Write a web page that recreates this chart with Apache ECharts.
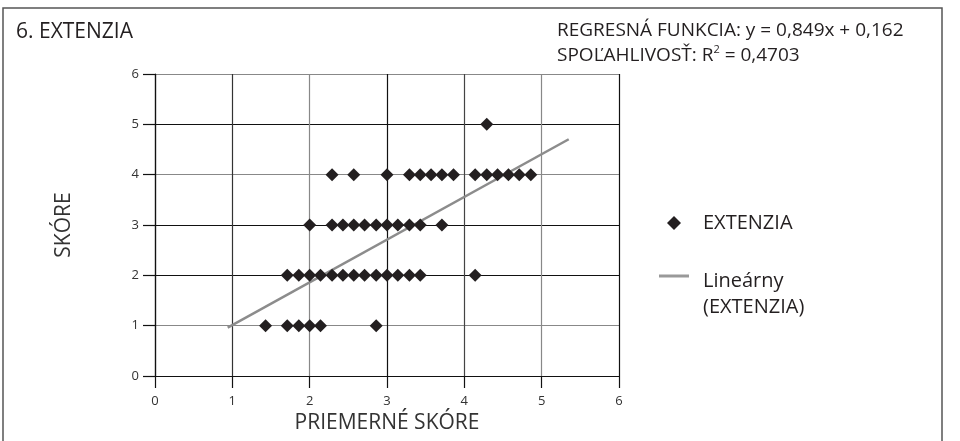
<!DOCTYPE html>
<html>
<head>
<meta charset="utf-8">
<script src="https://cdn.jsdelivr.net/npm/echarts@6/dist/echarts.min.js"></script>
<style>
  html, body { margin: 0; padding: 0; background: #fff; }
  #chart { width: 960px; height: 441px; }
</style>
</head>
<body>
<div id="chart"></div>
<script>
// Average score (x) for each respondent at each observed score level (y)
const score1 = [1.43, 1.71, 1.86, 2.00, 2.14, 2.86];
const score2 = [1.71, 1.86, 2.00, 2.14, 2.29, 2.43, 2.57, 2.71, 2.86, 3.00, 3.14, 3.29, 3.43, 4.14];
const score3 = [2.00, 2.29, 2.43, 2.57, 2.71, 2.86, 3.00, 3.14, 3.29, 3.43, 3.71];
const score4 = [2.29, 2.57, 3.00, 3.29, 3.43, 3.57, 3.71, 3.86, 4.14, 4.29, 4.43, 4.57, 4.71, 4.86];
const score5 = [4.29];

// Linear regression y = slope * x + intercept, drawn over this x span
const slope = 0.849;
const intercept = 0.162;
const rSquared = '0,4703';
const trendX = [0.94, 5.35];

const axisTicks = [0, 1, 2, 3, 4, 5, 6];

const FONT = '"Open Sans", "Noto Sans", sans-serif';
const INK = '#231f20';

const points = [];
[[1, score1], [2, score2], [3, score3], [4, score4], [5, score5]].forEach(([y, xs]) => {
  xs.forEach(x => points.push([x, y]));
});
const trend = trendX.map(x => [x, slope * x + intercept]);

const chart = echarts.init(document.getElementById('chart'), null, { renderer: 'canvas' });
chart.setOption({
  animation: false,
  backgroundColor: '#fff',
  textStyle: { fontFamily: FONT },
  graphic: [{
    type: 'rect',
    shape: { x: 3, y: 8, width: 939, height: 460 },
    style: { fill: 'none', stroke: '#555', lineWidth: 1.5 },
    silent: true
  }],
  title: [{
    text: '6. EXTENZIA',
    left: 16, top: 19, padding: 0,
    textStyle: { fontFamily: FONT, fontSize: 21, fontWeight: 'normal', color: INK, lineHeight: 26 }
  }, {
    text: '{a|REGRESNÁ FUNKCIA: y = 0,849x + 0,162}\n{a|SPOĽAHLIVOSŤ: R}{sup|2}{a| = ' + rSquared + '}',
    left: 557, top: 18, padding: 0,
    textStyle: {
      fontFamily: FONT, fontWeight: 'normal', color: INK,
      rich: {
        a: { fontFamily: FONT, fontSize: 19, color: INK, lineHeight: 25 },
        sup: { fontFamily: FONT, fontSize: 11, color: INK, lineHeight: 25, padding: [0, 0, 11, 0] }
      }
    }
  }],
  legend: [{
    data: [{ name: 'EXTENZIA', icon: 'diamond' }],
    left: 667, top: 211, padding: 0,
    itemWidth: 14, itemHeight: 14,
    selectedMode: false,
    textStyle: { fontFamily: FONT, fontSize: 20, color: INK, lineHeight: 24, padding: [0, 0, 0, 17] }
  }, {
    data: [{ name: 'Lineárny\n(EXTENZIA)', icon: 'rect' }],
    left: 659, top: 240, padding: 0,
    itemWidth: 30, itemHeight: 3,
    selectedMode: false,
    itemStyle: { color: '#999' },
    formatter: name => '{e| }\n' + name.split('\n').map(s => '{t|' + s + '}').join('\n'),
    textStyle: {
      fontFamily: FONT, fontSize: 20, color: INK, padding: [0, 0, 0, 9],
      rich: {
        e: { fontFamily: FONT, fontSize: 20, lineHeight: 36 },
        t: { fontFamily: FONT, fontSize: 20, color: INK, lineHeight: 26 }
      }
    }
  }],
  grid: { left: 155, right: 341, top: 74, bottom: 65, containLabel: false },
  xAxis: {
    type: 'value', min: axisTicks[0], max: axisTicks[axisTicks.length - 1], interval: 1,
    name: 'PRIEMERNÉ SKÓRE', nameLocation: 'middle', nameGap: 32,
    nameTextStyle: { fontFamily: FONT, fontSize: 21, color: '#333' },
    axisLine: { show: true, onZero: false, lineStyle: { color: '#111', width: 1.2 } },
    axisTick: { show: true, length: 12, lineStyle: { color: '#111', width: 1.2 } },
    axisLabel: { margin: 19, fontFamily: FONT, fontSize: 13, color: '#333' },
    splitLine: { show: true, lineStyle: { color: ['#111', '#333', '#888', '#111', '#444', '#888', '#111'], width: 1.2 } }
  },
  yAxis: {
    type: 'value', min: axisTicks[0], max: axisTicks[axisTicks.length - 1], interval: 1,
    name: 'SKÓRE', nameLocation: 'middle', nameGap: 80,
    nameTextStyle: { fontFamily: FONT, fontSize: 21, color: '#333' },
    axisLine: { show: true, onZero: false, lineStyle: { color: '#111', width: 1.2 } },
    axisTick: { show: true, length: 12, lineStyle: { color: '#111', width: 1.2 } },
    axisLabel: { margin: 16, fontFamily: FONT, fontSize: 13, color: '#333' },
    splitLine: { show: true, lineStyle: { color: ['#111', '#888', '#111', '#111', '#888', '#111', '#888'], width: 1.2 } }
  },
  series: [{
    name: 'EXTENZIA',
    type: 'scatter',
    symbol: 'diamond',
    symbolSize: [13, 13],
    itemStyle: { color: INK, opacity: 1 },
    data: points,
    z: 3
  }, {
    name: 'Lineárny\n(EXTENZIA)',
    type: 'line',
    showSymbol: false,
    symbol: 'none',
    lineStyle: { color: '#8c8c8c', width: 2.5 },
    itemStyle: { color: '#999' },
    data: trend,
    z: 2
  }]
});
</script>
</body>
</html>
